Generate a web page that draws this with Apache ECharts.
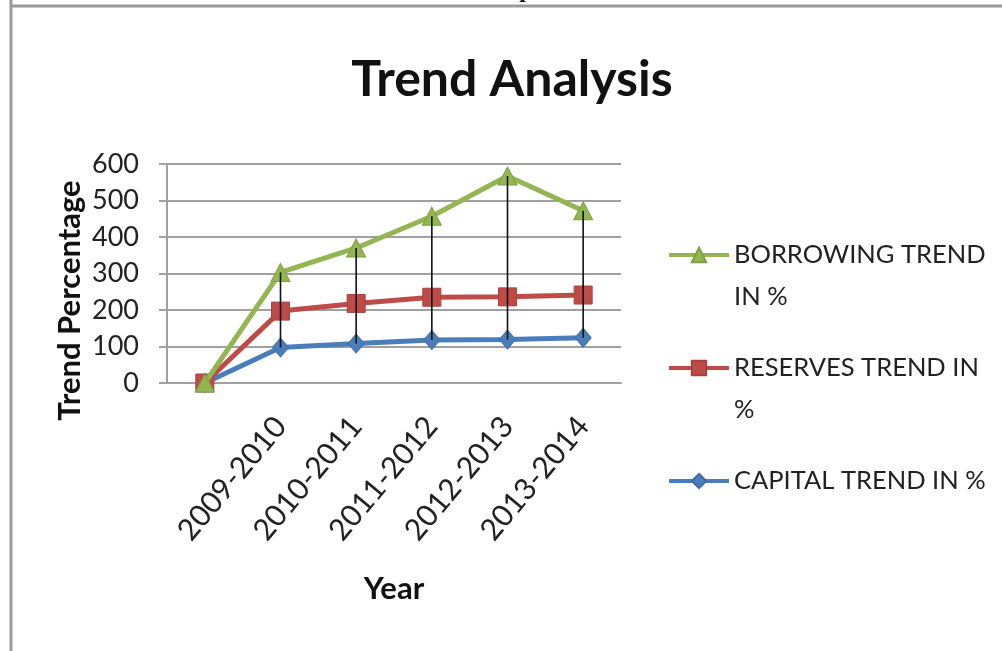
<!DOCTYPE html>
<html>
<head>
<meta charset="utf-8">
<title>Trend Analysis</title>
<script src="https://cdn.jsdelivr.net/npm/echarts@6/dist/echarts.min.js"></script>
<style>
  html, body { margin: 0; padding: 0; background: #ffffff; }
  #chart { width: 1002px; height: 651px; }
</style>
</head>
<body>
<div id="chart"></div>
<script>
// Year labels along the x axis (the first slot is the unlabeled base point)
const categories = ['', '2009-2010', '2010-2011', '2011-2012', '2012-2013', '2013-2014'];

// Trend percentages per series
const capitalTrend   = [0, 97, 108, 118, 119, 124];
const reservesTrend  = [0, 197, 218, 235, 236, 241];
const borrowingTrend = [0, 303, 370, 457, 567, 472];

const seriesNames = ['CAPITAL TREND IN %', 'RESERVES TREND IN %', 'BORROWING TREND IN %'];
const legendOrder = ['BORROWING TREND IN %', 'RESERVES TREND IN %', 'CAPITAL TREND IN %'];
// Legend text, wrapped into three-line blocks so the icon sits level with the first text line
const legendWrapped = {
  'BORROWING TREND IN %': '\nBORROWING TREND\nIN %',
  'RESERVES TREND IN %': '\nRESERVES TREND IN\n%',
  'CAPITAL TREND IN %': '\nCAPITAL TREND IN %\n'
};

const yMin = 0, yMax = 600, yStep = 100;

const FONT = 'Lato, "Open Sans", sans-serif';
const GREEN = '#93B552', RED = '#BE4B48', BLUE = '#4A7EBB';

// high-low connector rows: [category index, high, low]
const hiLow = categories.map((c, i) => [i, borrowingTrend[i], capitalTrend[i]]);

const chart = echarts.init(document.getElementById('chart'), null, { renderer: 'canvas' });

chart.setOption({
  backgroundColor: '#ffffff',
  animation: false,
  graphic: [
    // page frame
    { type: 'line', shape: { x1: 11, y1: 0, x2: 11, y2: 651 }, style: { stroke: '#9a9a9a', lineWidth: 3 } },
    { type: 'line', shape: { x1: 11, y1: 6, x2: 1002, y2: 6 }, style: { stroke: '#9a9a9a', lineWidth: 3 } },
    { type: 'text', x: 512, y: 3, style: { text: 'Graph', font: 'bold 24px "Liberation Serif", serif', fill: '#111', align: 'center', verticalAlign: 'bottom' } },
    // chart title
    { type: 'text', x: 512, y: 80, style: { text: 'Trend Analysis', font: 'bold 50px ' + FONT, fill: '#111', align: 'center', verticalAlign: 'middle' } }
  ],
  grid: { left: 167, right: 381, top: 164, bottom: 268, containLabel: false },
  legend: {
    orient: 'vertical',
    left: 662,
    top: 187,
    itemWidth: 60,
    itemHeight: 18,
    itemGap: -13,
    data: legendOrder,
    formatter: name => legendWrapped[name],
    lineStyle: { width: 4 },
    textStyle: { fontFamily: FONT, fontSize: 25.5, lineHeight: 42, color: '#222' }
  },
  xAxis: {
    type: 'category',
    data: categories,
    boundaryGap: true,
    name: 'Year',
    nameLocation: 'middle',
    nameGap: 190,
    nameMoveOverlap: false,
    nameTextStyle: { fontFamily: FONT, fontSize: 31, fontWeight: 'bold', color: '#111' },
    axisLine: { show: true, lineStyle: { color: '#a0a0a0', width: 2 } },
    axisTick: { show: false },
    axisLabel: { rotate: 50, margin: 38, interval: 0, fontFamily: FONT, fontSize: 30, color: '#222' }
  },
  yAxis: {
    type: 'value',
    min: yMin, max: yMax, interval: yStep,
    name: 'Trend Percentage',
    nameLocation: 'middle',
    nameGap: 82,
    nameMoveOverlap: false,
    nameTextStyle: { fontFamily: FONT, fontSize: 31, fontWeight: 'bold', color: '#111', padding: [0, 54, 0, 0] },
    axisLine: { show: true, lineStyle: { color: '#a0a0a0', width: 2 } },
    axisTick: { show: true, inside: false, length: 8, lineStyle: { color: '#a0a0a0', width: 2 } },
    splitLine: { show: true, lineStyle: { color: '#a0a0a0', width: 2 } },
    axisLabel: { margin: 28, fontFamily: FONT, fontSize: 27, color: '#222' }
  },
  series: [
    {
      name: seriesNames[0], type: 'line', data: capitalTrend,
      symbol: 'diamond', symbolSize: [16, 19],
      lineStyle: { color: BLUE, width: 5 },
      itemStyle: { color: BLUE, borderColor: '#3F6FA8', borderWidth: 1 },
      z: 2
    },
    {
      name: seriesNames[1], type: 'line', data: reservesTrend,
      symbol: 'rect', symbolSize: 18,
      lineStyle: { color: RED, width: 5 },
      itemStyle: { color: RED, borderColor: '#A84240', borderWidth: 1 },
      z: 3
    },
    {
      name: seriesNames[2], type: 'line', data: borrowingTrend,
      symbol: 'triangle', symbolSize: [19, 18],
      lineStyle: { color: GREEN, width: 5 },
      itemStyle: { color: GREEN, borderColor: '#7FA043', borderWidth: 1 },
      z: 4
    },
    {
      name: 'hi-low', type: 'custom', data: hiLow, z: 10, silent: true,
      renderItem: (params, api) => {
        const top = api.coord([api.value(0), api.value(1)]);
        const bottom = api.coord([api.value(0), api.value(2)]);
        return {
          type: 'line',
          shape: { x1: top[0], y1: top[1], x2: bottom[0], y2: bottom[1] },
          style: { stroke: '#111', lineWidth: 1.6 }
        };
      }
    }
  ]
});
</script>
</body>
</html>
